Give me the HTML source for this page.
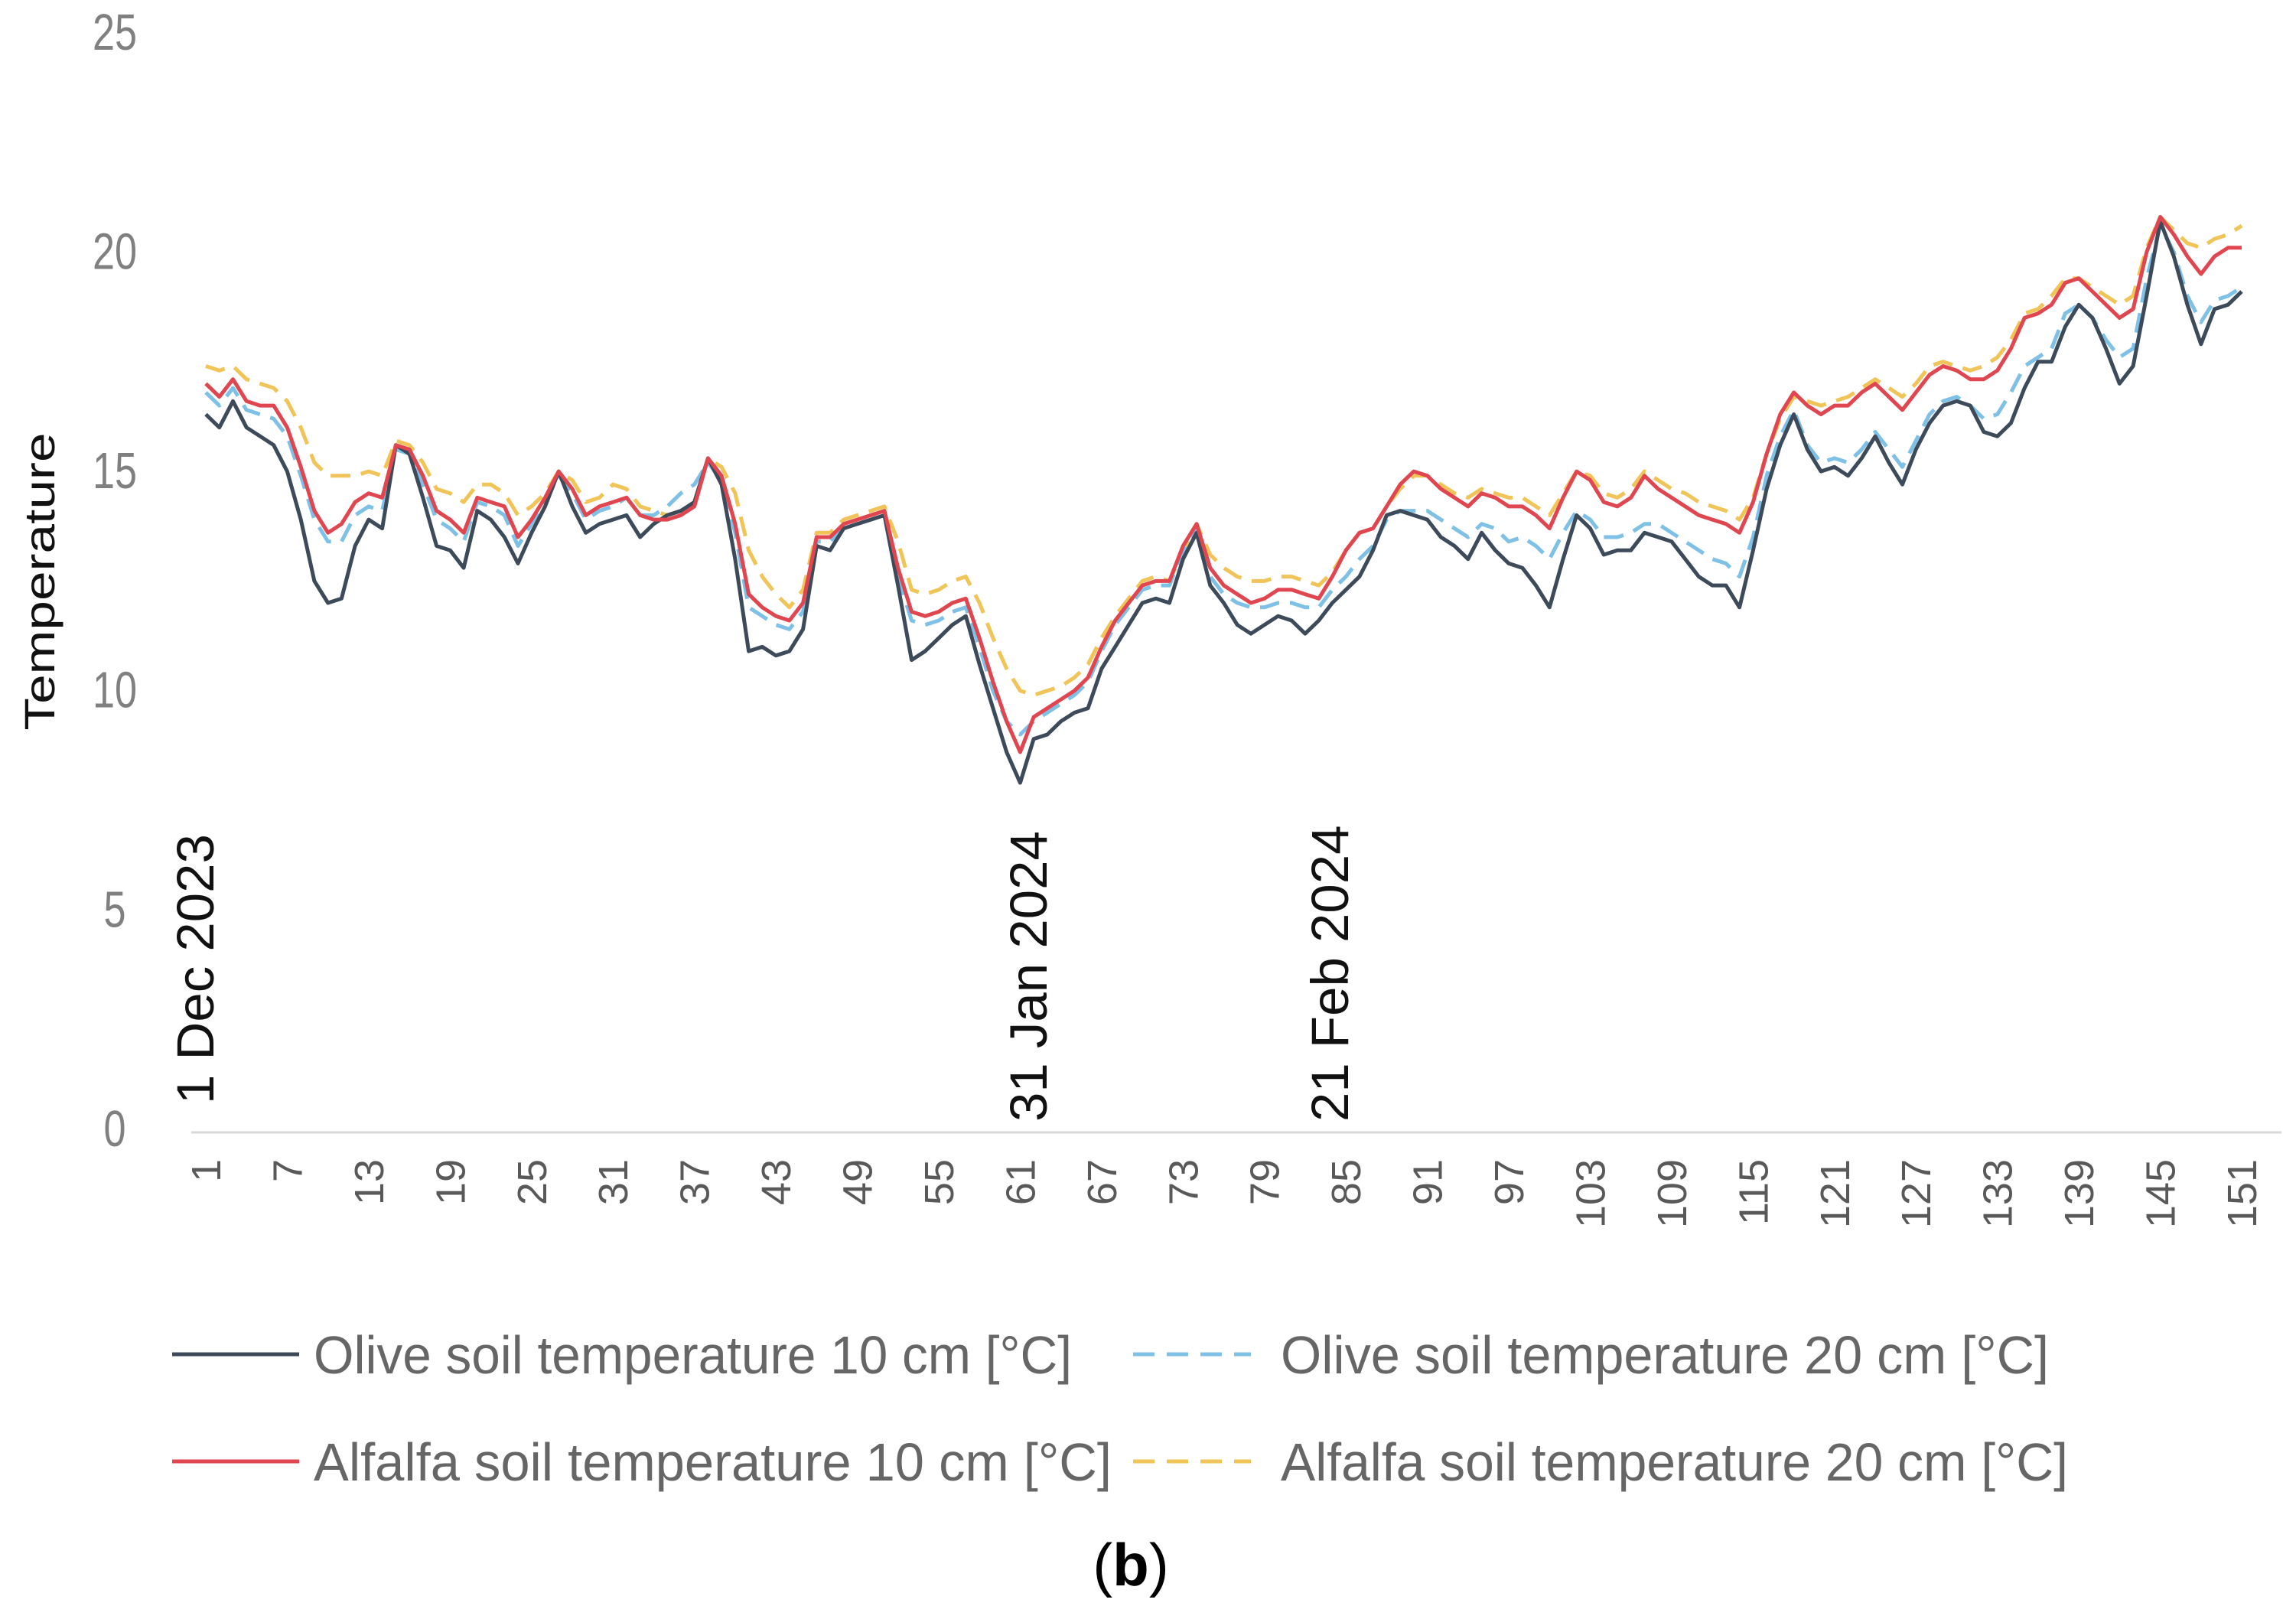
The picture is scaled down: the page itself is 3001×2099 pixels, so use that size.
<!DOCTYPE html>
<html><head><meta charset="utf-8">
<style>
html,body{margin:0;padding:0;background:#fff;}
svg{display:block;}
text{font-family:"Liberation Sans",sans-serif;}
</style></head>
<body>
<svg id="chart" width="3001" height="2099" viewBox="0 0 3001 2099" xmlns="http://www.w3.org/2000/svg">
<g id="yaxis"></g>
<g id="xaxis"></g>
<g id="series"></g>
<text transform="translate(71,760) rotate(-90)" text-anchor="middle" font-size="56" fill="#111" textLength="389" lengthAdjust="spacingAndGlyphs">Temperature</text>
<text transform="translate(279,1443) rotate(-90)" font-size="69" fill="#111">1 Dec 2023</text>
<text transform="translate(1368,1466) rotate(-90)" font-size="69" fill="#111">31 Jan 2024</text>
<text transform="translate(1762,1466) rotate(-90)" font-size="69" fill="#111">21 Feb 2024</text>
<g>
  <g>
    <line x1="225" y1="1770" x2="391" y2="1770" stroke="#3c4a5a" stroke-width="5"/>
    <text x="410" y="1795" font-size="70" fill="#666" textLength="991" lengthAdjust="spacingAndGlyphs">Olive soil temperature 10 cm [°C]</text>
  </g>
  <g>
    <line x1="1481" y1="1770" x2="1635" y2="1770" stroke="#7fc0e6" stroke-width="5" stroke-dasharray="28,16"/>
    <text x="1674" y="1795" font-size="70" fill="#666" textLength="1004" lengthAdjust="spacingAndGlyphs">Olive soil temperature 20 cm  [°C]</text>
  </g>
  <g>
    <line x1="225" y1="1910" x2="391" y2="1910" stroke="#e04650" stroke-width="5"/>
    <text x="410" y="1935" font-size="70" fill="#666" textLength="1043" lengthAdjust="spacingAndGlyphs">Alfalfa soil temperature 10 cm  [°C]</text>
  </g>
  <g>
    <line x1="1481" y1="1910" x2="1635" y2="1910" stroke="#f0c458" stroke-width="5" stroke-dasharray="28,16"/>
    <text x="1674" y="1935" font-size="70" fill="#666" textLength="1029" lengthAdjust="spacingAndGlyphs">Alfalfa soil temperature 20 cm [°C]</text>
  </g>
</g>
<text x="1478" y="2072" text-anchor="middle" font-family="Liberation Serif, serif" font-size="78" fill="#000"><tspan font-weight="normal">(</tspan><tspan font-weight="bold">b</tspan><tspan font-weight="normal">)</tspan></text>
</svg>
<script>
const yTicks = [0,5,10,15,20,25];
const xTickLabels = [1,7,13,19,25,31,37,43,49,55,61,67,73,79,85,91,97,103,109,115,121,127,133,139,145,151];
const olive10 = [16.3,16.0,16.6,16.0,15.8,15.6,15.0,13.9,12.5,12.0,12.1,13.3,13.9,13.7,15.6,15.4,14.4,13.3,13.2,12.8,14.1,13.9,13.5,12.9,13.6,14.2,15.0,14.2,13.6,13.8,13.9,14.0,13.5,13.8,14.0,14.1,14.3,15.3,14.7,13.0,10.9,11.0,10.8,10.9,11.4,13.3,13.2,13.7,13.8,13.9,14.0,12.4,10.7,10.9,11.2,11.5,11.7,10.6,9.6,8.6,7.9,8.9,9.0,9.3,9.5,9.6,10.5,11.0,11.5,12.0,12.1,12.0,13.0,13.6,12.4,12.0,11.5,11.3,11.5,11.7,11.6,11.3,11.6,12.0,12.3,12.6,13.2,14.0,14.1,14.0,13.9,13.5,13.3,13.0,13.6,13.2,12.9,12.8,12.4,11.9,13.0,14.0,13.7,13.1,13.2,13.2,13.6,13.5,13.4,13.0,12.6,12.4,12.4,11.9,13.2,14.6,15.6,16.3,15.5,15.0,15.1,14.9,15.3,15.8,15.2,14.7,15.5,16.1,16.5,16.6,16.5,15.9,15.8,16.1,16.9,17.5,17.5,18.3,18.8,18.5,17.8,17.0,17.4,19.0,20.7,19.9,18.8,17.9,18.7,18.8,19.1];
const olive20 = [16.8,16.5,16.9,16.4,16.3,16.2,15.8,14.9,13.9,13.4,13.4,14.0,14.2,14.1,15.5,15.4,14.7,13.9,13.7,13.4,14.3,14.2,14.0,13.3,13.8,14.3,14.9,14.5,13.9,14.1,14.2,14.4,14.0,14.0,14.2,14.5,14.7,15.2,14.8,13.6,11.9,11.7,11.5,11.4,11.8,13.4,13.4,13.7,13.8,13.9,14.0,12.6,11.6,11.5,11.6,11.8,11.9,11.0,10.0,9.3,9.0,9.3,9.5,9.7,9.9,10.2,10.9,11.5,11.9,12.3,12.4,12.4,13.2,13.7,12.6,12.2,12.0,11.9,11.9,12.0,12.0,11.9,11.9,12.3,12.6,13.0,13.3,13.9,14.1,14.1,14.1,13.9,13.7,13.5,13.8,13.7,13.4,13.5,13.3,13.0,13.6,14.1,13.9,13.5,13.5,13.6,13.8,13.8,13.6,13.4,13.2,13.0,12.9,12.6,13.5,14.9,15.8,16.4,15.6,15.2,15.3,15.2,15.5,15.9,15.5,15.1,15.7,16.3,16.6,16.7,16.5,16.2,16.3,16.8,17.4,17.6,17.8,18.6,18.8,18.5,18.0,17.6,17.8,19.4,20.6,20.0,19.0,18.4,18.9,19.0,19.2];
const alfalfa10 = [17.0,16.7,17.1,16.6,16.5,16.5,16.0,15.1,14.1,13.6,13.8,14.3,14.5,14.4,15.6,15.5,14.9,14.1,13.9,13.6,14.4,14.3,14.2,13.5,13.9,14.4,15.0,14.6,14.0,14.2,14.3,14.4,14.0,13.9,13.9,14.0,14.2,15.3,14.9,13.8,12.2,11.9,11.7,11.6,12.0,13.5,13.5,13.8,13.9,14.0,14.1,12.8,11.8,11.7,11.8,12.0,12.1,11.2,10.2,9.3,8.6,9.4,9.6,9.8,10.0,10.3,11.0,11.6,12.0,12.4,12.5,12.5,13.3,13.8,12.8,12.4,12.2,12.0,12.1,12.3,12.3,12.2,12.1,12.6,13.2,13.6,13.7,14.2,14.7,15.0,14.9,14.6,14.4,14.2,14.5,14.4,14.2,14.2,14.0,13.7,14.4,15.0,14.8,14.3,14.2,14.4,14.9,14.6,14.4,14.2,14.0,13.9,13.8,13.6,14.3,15.4,16.3,16.8,16.5,16.3,16.5,16.5,16.8,17.0,16.7,16.4,16.8,17.2,17.4,17.3,17.1,17.1,17.3,17.8,18.5,18.6,18.8,19.3,19.4,19.1,18.8,18.5,18.7,20.0,20.8,20.4,19.9,19.5,19.9,20.1,20.1];
const alfalfa20 = [17.4,17.3,17.4,17.1,17.0,16.9,16.6,16.0,15.2,14.9,14.9,14.9,15.0,14.9,15.7,15.6,15.2,14.6,14.5,14.3,14.7,14.7,14.5,14.0,14.2,14.5,15.0,14.8,14.3,14.4,14.7,14.6,14.2,14.1,14.0,14.1,14.3,15.3,15.1,14.5,13.2,12.6,12.2,11.9,12.3,13.6,13.6,13.9,14.0,14.1,14.2,13.4,12.3,12.2,12.3,12.5,12.6,12.0,11.2,10.5,10.0,9.9,10.0,10.1,10.3,10.6,11.2,11.7,12.1,12.5,12.6,12.5,13.2,13.8,13.1,12.8,12.6,12.5,12.5,12.6,12.6,12.5,12.4,12.7,13.2,13.6,13.7,14.2,14.6,14.9,14.9,14.7,14.5,14.4,14.6,14.5,14.4,14.4,14.2,14.0,14.5,15.0,14.9,14.5,14.4,14.6,15.0,14.8,14.6,14.5,14.3,14.2,14.1,13.9,14.4,15.4,16.2,16.7,16.6,16.5,16.6,16.7,16.9,17.1,16.9,16.7,17.0,17.4,17.5,17.4,17.3,17.4,17.6,18.0,18.6,18.7,19.0,19.4,19.4,19.2,19.0,18.8,19.0,20.1,20.8,20.5,20.2,20.1,20.3,20.4,20.6];

const NS = "http://www.w3.org/2000/svg";
function xScale(d){ return 269 + (d-1)*17.74; }
function yScale(v){ return 1476 - v*57.33; }

const yaxis = document.getElementById('yaxis');
yTicks.forEach(t=>{
  const tx = document.createElementNS(NS,'text');
  tx.setAttribute('transform','translate(150,'+(yScale(t)+22)+') scale(0.9,1.15)');
  tx.setAttribute('text-anchor','middle');
  tx.setAttribute('font-size','58');
  tx.setAttribute('fill','#808080');
  tx.textContent = t;
  
  
  yaxis.appendChild(tx);
});

const xaxis = document.getElementById('xaxis');
const axisLine = document.createElementNS(NS,'line');
axisLine.setAttribute('x1',250); axisLine.setAttribute('x2',2982);
axisLine.setAttribute('y1',yScale(0)+4); axisLine.setAttribute('y2',yScale(0)+4);
axisLine.setAttribute('stroke','#d9d9d9'); axisLine.setAttribute('stroke-width','3');


xaxis.appendChild(axisLine);
xTickLabels.forEach(d=>{
  const tx = document.createElementNS(NS,'text');
  const x = xScale(d)+19;
  tx.setAttribute('transform','translate('+x+',1515) rotate(-90)');
  tx.setAttribute('text-anchor','end');
  tx.setAttribute('font-size','54');
  tx.setAttribute('fill','#595959');
  tx.textContent = d;
  
  
  xaxis.appendChild(tx);
});

const seriesG = document.getElementById('series');
function drawSeries(arr, color, dash, name){
  const pts = arr.map((v,i)=> xScale(i+1).toFixed(1)+','+yScale(v).toFixed(1)).join(' ');
  const pl = document.createElementNS(NS,'polyline');
  pl.setAttribute('points',pts);
  pl.setAttribute('fill','none');
  pl.setAttribute('stroke',color);
  pl.setAttribute('stroke-width','5');
  pl.setAttribute('stroke-linejoin','round');
  if(dash) pl.setAttribute('stroke-dasharray',dash);
  
  
  seriesG.appendChild(pl);
}
drawSeries(alfalfa20,'#f0c458','26,14','line-alfalfa-20cm');
drawSeries(olive20,'#7fc0e6','26,14','line-olive-20cm');
drawSeries(olive10,'#3c4a5a',null,'line-olive-10cm');
drawSeries(alfalfa10,'#e04650',null,'line-alfalfa-10cm');
</script>
</body></html>
